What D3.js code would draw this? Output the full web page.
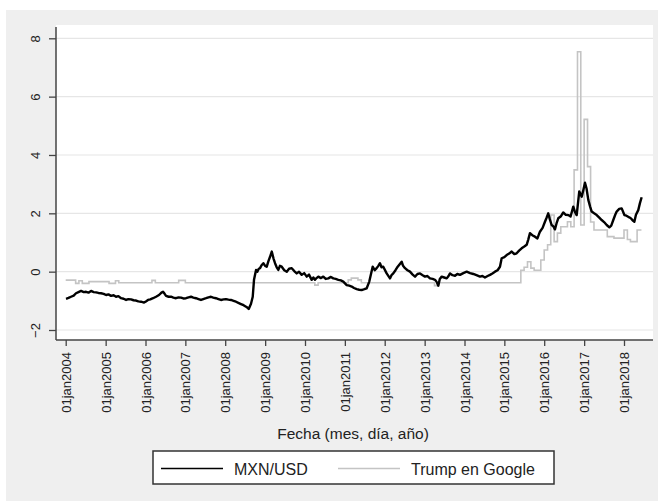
<!DOCTYPE html>
<html><head><meta charset="utf-8">
<script src="https://cdn.jsdelivr.net/npm/d3@7"></script>
<style>body{margin:0;background:#fff}svg{display:block}text{font-family:"Liberation Sans",Arial,sans-serif;fill:#222}</style>
</head><body>
<script>
// ---- DATA ----
const yTicks = [-2, 0, 2, 4, 6, 8];
const xTickYears = [2004,2005,2006,2007,2008,2009,2010,2011,2012,2013,2014,2015,2016,2017,2018];
const seriesNames = ["MXN/USD", "Trump en Google"];
const xTitle = "Fecha (mes, día, año)";

// MXN/USD (standardized), time in decimal years
const mxnTime = [2004.008,2004.07,2004.133,2004.20,2004.258,2004.32,2004.384,2004.45,2004.509,2004.57,2004.634,2004.70,2004.760,2004.82,2004.885,2004.95,
2005.011,2005.07,2005.136,2005.20,2005.261,2005.32,2005.387,2005.45,2005.512,2005.57,2005.637,2005.70,2005.763,2005.82,2005.888,2005.963,
2006.01,2006.063,2006.12,2006.189,2006.264,2006.339,2006.40,2006.440,2006.48,2006.515,2006.58,2006.640,2006.70,2006.765,2006.83,2006.891,2006.95,
2007.016,2007.08,2007.142,2007.20,2007.267,2007.33,2007.392,2007.45,2007.518,2007.58,2007.643,2007.70,2007.768,2007.83,2007.894,2007.96,
2008.019,2008.08,2008.145,2008.21,2008.270,2008.33,2008.395,2008.46,2008.521,2008.56,2008.589,2008.646,2008.689,2008.721,2008.772,2008.804,2008.84,2008.872,2008.91,2008.955,
2009.00,2009.040,2009.08,2009.123,2009.166,2009.21,2009.248,2009.29,2009.331,2009.37,2009.416,2009.48,2009.542,2009.60,2009.667,2009.73,2009.792,2009.85,2009.918,2009.98,
2010.043,2010.10,2010.168,2010.21,2010.251,2010.29,2010.334,2010.40,2010.459,2010.52,2010.585,2010.65,2010.710,2010.77,2010.836,2010.90,2010.961,
2011.046,2011.11,2011.172,2011.23,2011.297,2011.36,2011.422,2011.49,2011.548,2011.613,2011.698,2011.75,2011.798,2011.84,2011.881,2011.92,2011.964,
2012.049,2012.132,2012.17,2012.215,2012.27,2012.325,2012.425,2012.46,2012.508,2012.57,2012.633,2012.70,2012.759,2012.82,2012.884,2012.95,
2013.009,2013.07,2013.135,2013.20,2013.260,2013.30,2013.343,2013.38,2013.428,2013.49,2013.554,2013.60,2013.636,2013.70,2013.762,2013.82,2013.887,2013.97,
2014.055,2014.14,2014.221,2014.30,2014.389,2014.45,2014.514,2014.58,2014.640,2014.70,2014.765,2014.83,2014.890,2014.933,
2015.00,2015.058,2015.12,2015.184,2015.25,2015.309,2015.37,2015.434,2015.50,2015.560,2015.60,2015.643,2015.70,2015.768,2015.83,2015.893,2015.96,
2016.019,2016.06,2016.101,2016.14,2016.186,2016.23,2016.269,2016.31,2016.352,2016.42,2016.477,2016.54,2016.603,2016.66,2016.728,2016.77,2016.813,2016.85,2016.878,2016.939,2016.98,
2017.021,2017.06,2017.104,2017.15,2017.189,2017.25,2017.315,2017.38,2017.440,2017.50,2017.566,2017.633,2017.68,2017.731,2017.78,2017.816,2017.88,2017.942,
2018.010,2018.06,2018.107,2018.15,2018.193,2018.23,2018.260,2018.30,2018.358,2018.40,2018.443];
const mxnValue = [-0.93,-0.90,-0.86,-0.82,-0.74,-0.70,-0.66,-0.70,-0.69,-0.72,-0.66,-0.70,-0.71,-0.73,-0.74,-0.76,
-0.80,-0.78,-0.83,-0.81,-0.86,-0.84,-0.91,-0.93,-0.97,-0.94,-0.95,-0.98,-0.99,-1.02,-1.03,-1.06,
-1.02,-0.97,-0.95,-0.91,-0.86,-0.80,-0.72,-0.69,-0.76,-0.83,-0.86,-0.86,-0.89,-0.91,-0.88,-0.89,-0.92,
-0.91,-0.88,-0.86,-0.89,-0.91,-0.94,-0.97,-0.94,-0.91,-0.88,-0.86,-0.89,-0.91,-0.94,-0.97,-0.95,
-0.94,-0.96,-0.97,-1.00,-1.03,-1.07,-1.11,-1.15,-1.20,-1.24,-1.28,-1.10,-0.86,-0.28,0.06,0.00,0.10,0.12,0.22,0.29,
0.20,0.17,0.35,0.51,0.69,0.45,0.29,0.15,0.06,0.20,0.17,0.05,0.00,0.10,0.12,0.02,-0.06,0.00,-0.11,-0.05,
-0.17,-0.10,-0.28,-0.20,-0.28,-0.22,-0.17,-0.22,-0.17,-0.25,-0.23,-0.18,-0.23,-0.25,-0.28,-0.30,-0.34,
-0.46,-0.48,-0.51,-0.56,-0.60,-0.62,-0.63,-0.60,-0.57,-0.34,0.17,0.05,0.12,0.20,0.29,0.15,0.17,
-0.06,-0.23,-0.12,-0.06,0.05,0.17,0.34,0.20,0.12,0.05,0.00,-0.10,-0.17,-0.08,-0.06,-0.12,
-0.17,-0.15,-0.23,-0.25,-0.28,-0.35,-0.48,-0.25,-0.17,-0.20,-0.23,-0.15,-0.06,-0.12,-0.14,-0.08,-0.11,-0.05,
0.00,-0.05,-0.08,-0.12,-0.17,-0.15,-0.20,-0.15,-0.11,-0.06,0.00,0.05,0.17,0.46,
0.50,0.57,0.62,0.69,0.60,0.63,0.72,0.80,0.86,0.92,1.10,1.32,1.25,1.20,1.14,1.37,1.50,
1.71,1.85,2.00,1.80,1.60,1.55,1.45,1.66,1.83,1.90,2.03,1.95,1.94,1.89,2.23,2.05,1.94,2.40,2.75,2.57,2.80,
3.05,2.85,2.46,2.23,2.06,2.00,1.94,1.85,1.77,1.70,1.60,1.52,1.58,1.77,1.95,2.06,2.15,2.17,
1.94,1.92,1.88,1.85,1.80,1.74,1.71,1.95,2.11,2.35,2.55];

// Trump en Google (standardized, monthly; value holds from each date until the next)
const trumpDate = ["2004-01","2004-04","2004-05","2004-06","2004-08","2005-02","2005-04","2005-05","2006-03","2006-04","2006-11","2007-01",
"2010-04","2010-05","2011-02","2011-03","2011-05","2011-06","2013-04","2013-05",
"2015-06","2015-07","2015-08","2015-09","2015-10","2015-12","2016-01","2016-02","2016-03","2016-04","2016-05","2016-06","2016-08","2016-09",
"2016-10","2016-11","2016-12","2017-01","2017-02","2017-03","2017-04","2017-08","2017-10","2018-01","2018-02","2018-03","2018-05","2018-06-10"];
const trumpValue = [-0.29,-0.40,-0.31,-0.40,-0.34,-0.40,-0.31,-0.38,-0.30,-0.38,-0.30,-0.38,
-0.46,-0.38,-0.28,-0.22,-0.28,-0.38,-0.48,-0.38,
0.05,0.15,0.34,0.12,0.05,0.40,0.74,0.92,1.94,1.03,1.32,1.54,1.71,1.54,
3.49,7.54,1.60,5.22,3.60,1.70,1.43,1.20,1.15,1.43,1.10,1.03,1.43,1.43];

// ---- CHART ----
const W = 658, H = 501;
const svg = d3.select("body").append("svg").attr("width", W).attr("height", H);
const decToDate = t => { const y = Math.floor(t); const s = new Date(y,0,1), e = new Date(y+1,0,1); return new Date(+s + (t - y) * (e - s)); };

const plot = {left: 56, right: 653, top: 25, bottom: 340};
const x = d3.scaleTime().domain([new Date(2004,0,1), new Date(2018,0,1)]).range([65.7, 624]);
const y = d3.scaleLinear().domain([-2, 8]).range([330, 38.3]);

svg.append("rect").attr("x", 6).attr("y", 10).attr("width", W - 6).attr("height", H - 10).attr("fill", "#efefef");
svg.append("rect").attr("x", plot.left).attr("y", plot.top).attr("width", plot.right - plot.left).attr("height", plot.bottom - plot.top).attr("fill", "#fff");

// grid
svg.append("g").selectAll("line").data(yTicks).join("line")
  .attr("x1", plot.left).attr("x2", plot.right).attr("y1", d => y(d)).attr("y2", d => y(d))
  .attr("stroke", "#e6e6e6").attr("stroke-width", 1.2);

// y axis
const yAxis = svg.append("g").attr("transform", `translate(${plot.left},0)`)
  .call(d3.axisLeft(y).tickValues(yTicks).tickSize(7).tickFormat(d3.format("d")));
yAxis.select(".domain").remove();
yAxis.selectAll(".tick line").attr("stroke", "#444").attr("stroke-width", 1.3);
yAxis.selectAll(".tick text").attr("font-size", 13).attr("fill", "#222")
  .attr("text-anchor", "middle").attr("x", null).attr("dy", null)
  .attr("transform", "translate(-16,0) rotate(-90)");
svg.append("line").attr("x1", plot.left).attr("x2", plot.left).attr("y1", plot.top + 2).attr("y2", plot.bottom)
  .attr("stroke", "#444").attr("stroke-width", 1.5);

// x axis
const xAxis = svg.append("g").attr("transform", `translate(0,${plot.bottom})`)
  .call(d3.axisBottom(x).tickValues(xTickYears.map(yr => new Date(yr,0,1))).tickSize(6)
    .tickFormat(d => "01jan" + d.getFullYear()));
xAxis.select(".domain").remove();
xAxis.selectAll(".tick line").attr("stroke", "#444").attr("stroke-width", 1.3);
xAxis.selectAll(".tick text").attr("font-size", 13).attr("fill", "#222")
  .attr("text-anchor", "end").attr("y", null).attr("dy", null)
  .attr("transform", "translate(4.5,12) rotate(-90)");
svg.append("line").attr("x1", plot.left).attr("x2", plot.right).attr("y1", plot.bottom).attr("y2", plot.bottom)
  .attr("stroke", "#444").attr("stroke-width", 1.5);

svg.append("text").attr("x", 353).attr("y", 439).attr("text-anchor", "middle").attr("font-size", 15.5).text(xTitle);

// lines
const trump = trumpDate.map((d, i) => ({t: d.length > 7 ? d3.timeParse("%Y-%m-%d")(d) : d3.timeParse("%Y-%m")(d), v: trumpValue[i]}));
const mxn = mxnTime.map((t, i) => ({t: decToDate(t), v: mxnValue[i]}));

svg.append("path").datum(trump)
  .attr("d", d3.line().x(d => x(d.t)).y(d => y(d.v)).curve(d3.curveStepAfter))
  .attr("fill", "none").attr("stroke", "#c4c4c4").attr("stroke-width", 1.6);
svg.append("path").datum(mxn)
  .attr("d", d3.line().x(d => x(d.t)).y(d => y(d.v)))
  .attr("fill", "none").attr("stroke", "#000").attr("stroke-width", 2.4).attr("stroke-linejoin", "round");

// legend
const lg = svg.append("g");
lg.append("rect").attr("x", 153).attr("y", 451).attr("width", 401).attr("height", 33)
  .attr("fill", "#fff").attr("stroke", "#333").attr("stroke-width", 1.5);
const legendItems = [
  {name: seriesNames[0], color: "#000", w: 1.6, x0: 161},
  {name: seriesNames[1], color: "#c4c4c4", w: 1.6, x0: 338}
];
legendItems.forEach(it => {
  lg.append("line").attr("x1", it.x0).attr("x2", it.x0 + 62).attr("y1", 468.5).attr("y2", 468.5)
    .attr("stroke", it.color).attr("stroke-width", it.w);
  lg.append("text").attr("x", it.x0 + 73).attr("y", 474.5).attr("font-size", 16).text(it.name);
});
</script>
</body></html>
